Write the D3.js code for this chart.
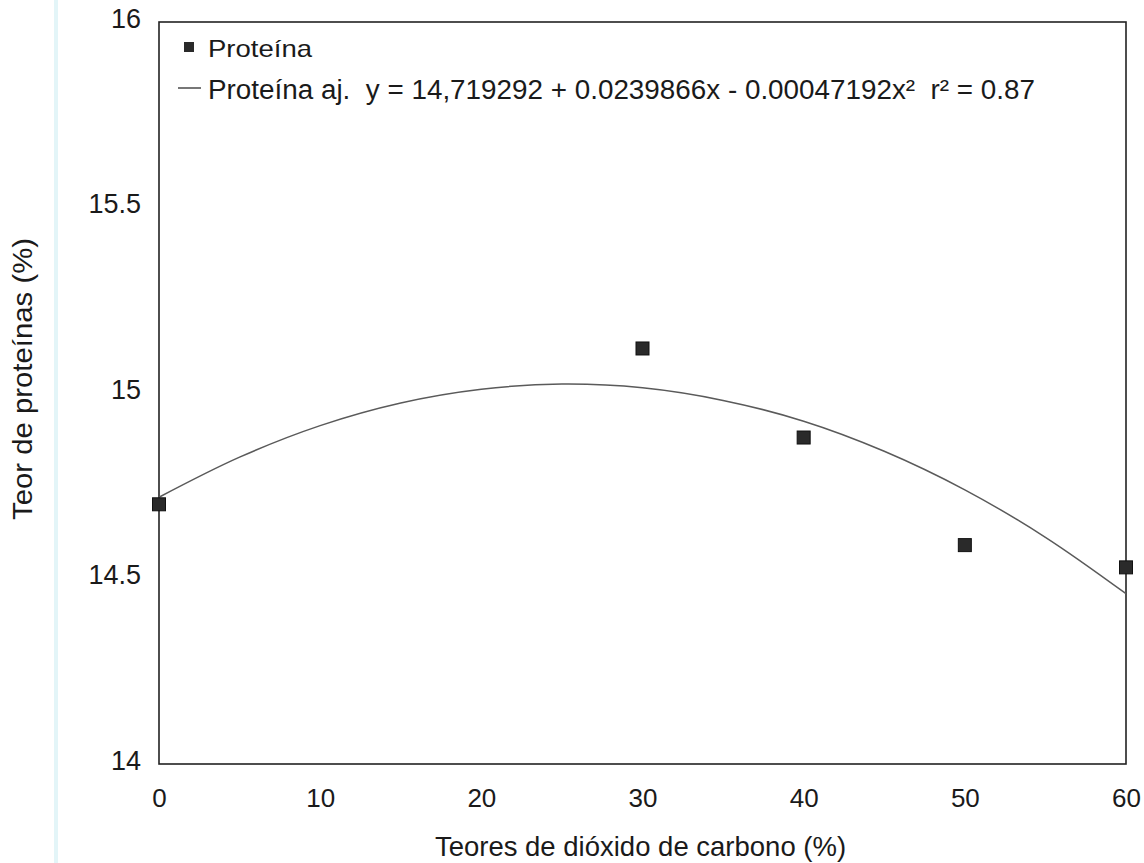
<!DOCTYPE html>
<html><head><meta charset="utf-8">
<script src="https://cdn.jsdelivr.net/npm/d3@7"></script>
<style>body{margin:0;background:#fff}svg{display:block}text{font-family:"Liberation Sans",Arial,sans-serif;fill:#1a1a1a}</style>
</head><body><svg id="c" width="1144" height="863"></svg>
<script>
const xValues = [0, 30, 40, 50, 60];
const proteina = [14.70, 15.12, 14.88, 14.59, 14.53];
const fitX = [0, 5, 10, 15, 20, 25, 30, 35, 40, 45, 50, 55, 60];
const fitY = [14.719, 14.827, 14.912, 14.973, 15.010, 15.024, 15.014, 14.980, 14.924, 14.843, 14.739, 14.611, 14.459];
const xTicks = [0, 10, 20, 30, 40, 50, 60];
const yTicks = [14, 14.5, 15, 15.5, 16];
const yTickLabels = ["14", "14.5", "15", "15.5", "16"];
const legendLabels = ["Proteína", "Proteína aj.  y = 14,719292 + 0.0239866x - 0.00047192x²  r² = 0.87"];
const xTitle = "Teores de dióxido de carbono (%)";
const yTitle = "Teor de proteínas (%)";

const svg = d3.select("#c");
const L = 159, R = 1126, T = 22, B = 764;
const x = d3.scaleLinear().domain([0, 60]).range([L, R]);
const y = d3.scaleLinear().domain([14, 16]).range([B, T]);
const FF = '"Liberation Sans",Arial,sans-serif';

// faint scan stripe
svg.append("line").attr("x1", 56).attr("x2", 56).attr("y1", 0).attr("y2", 863)
  .attr("stroke", "#e3f5f8").attr("stroke-width", 4);

svg.append("rect").attr("x", L).attr("y", T).attr("width", R - L).attr("height", B - T)
  .attr("fill", "none").attr("stroke", "#222").attr("stroke-width", 1.6);

const xAxis = d3.axisBottom(x).tickValues(xTicks).tickSize(0).tickPadding(25).tickFormat(d3.format("d"));
const gx = svg.append("g").attr("transform", `translate(0,${B})`).call(xAxis);
gx.select(".domain").remove();
gx.selectAll("text").attr("font-size", 26).style("font-family", FF).attr("fill", "#1a1a1a");

const yAxis = d3.axisLeft(y).tickValues(yTicks).tickSize(0).tickPadding(18).tickFormat((d, i) => yTickLabels[i]);
const gy = svg.append("g").attr("transform", `translate(${L},0)`).call(yAxis);
gy.select(".domain").remove();
gy.selectAll("text").attr("font-size", 27).style("font-family", FF).attr("fill", "#1a1a1a").attr("dy", "0.2em");

svg.append("text").attr("x", (L + R) / 2 - 2).attr("y", 856).attr("text-anchor", "middle")
  .attr("font-size", 27.5).text(xTitle);
svg.append("text").attr("transform", "translate(32,379) rotate(-90)").attr("text-anchor", "middle")
  .attr("font-size", 28).attr("textLength", 282).attr("lengthAdjust", "spacingAndGlyphs").text(yTitle);

const line = d3.line().x((d, i) => x(fitX[i])).y(d => y(d)).curve(d3.curveCatmullRom);
svg.append("path").datum(fitY).attr("d", line).attr("fill", "none")
  .attr("stroke", "#5a5a5a").attr("stroke-width", 1.5);

svg.selectAll("rect.pt").data(proteina).enter().append("rect").attr("class", "pt")
  .attr("x", (d, i) => x(xValues[i]) - 6.5).attr("y", d => y(d) - 6.5)
  .attr("width", 13).attr("height", 13).attr("fill", "#2a2a2a").attr("stroke", "#111").attr("stroke-width", 1);

// legend
svg.append("rect").attr("x", 184).attr("y", 42).attr("width", 10).attr("height", 10).attr("fill", "#2a2a2a");
svg.append("text").attr("x", 208).attr("y", 57).attr("font-size", 24)
  .attr("textLength", 104).attr("lengthAdjust", "spacingAndGlyphs").text(legendLabels[0]);
svg.append("line").attr("x1", 178).attr("x2", 201).attr("y1", 88).attr("y2", 88).attr("stroke", "#555").attr("stroke-width", 1.6);
svg.append("text").attr("x", 208).attr("y", 99).attr("font-size", 27).style("white-space", "pre")
  .attr("textLength", 827).attr("lengthAdjust", "spacingAndGlyphs").text(legendLabels[1]);
</script></body></html>
